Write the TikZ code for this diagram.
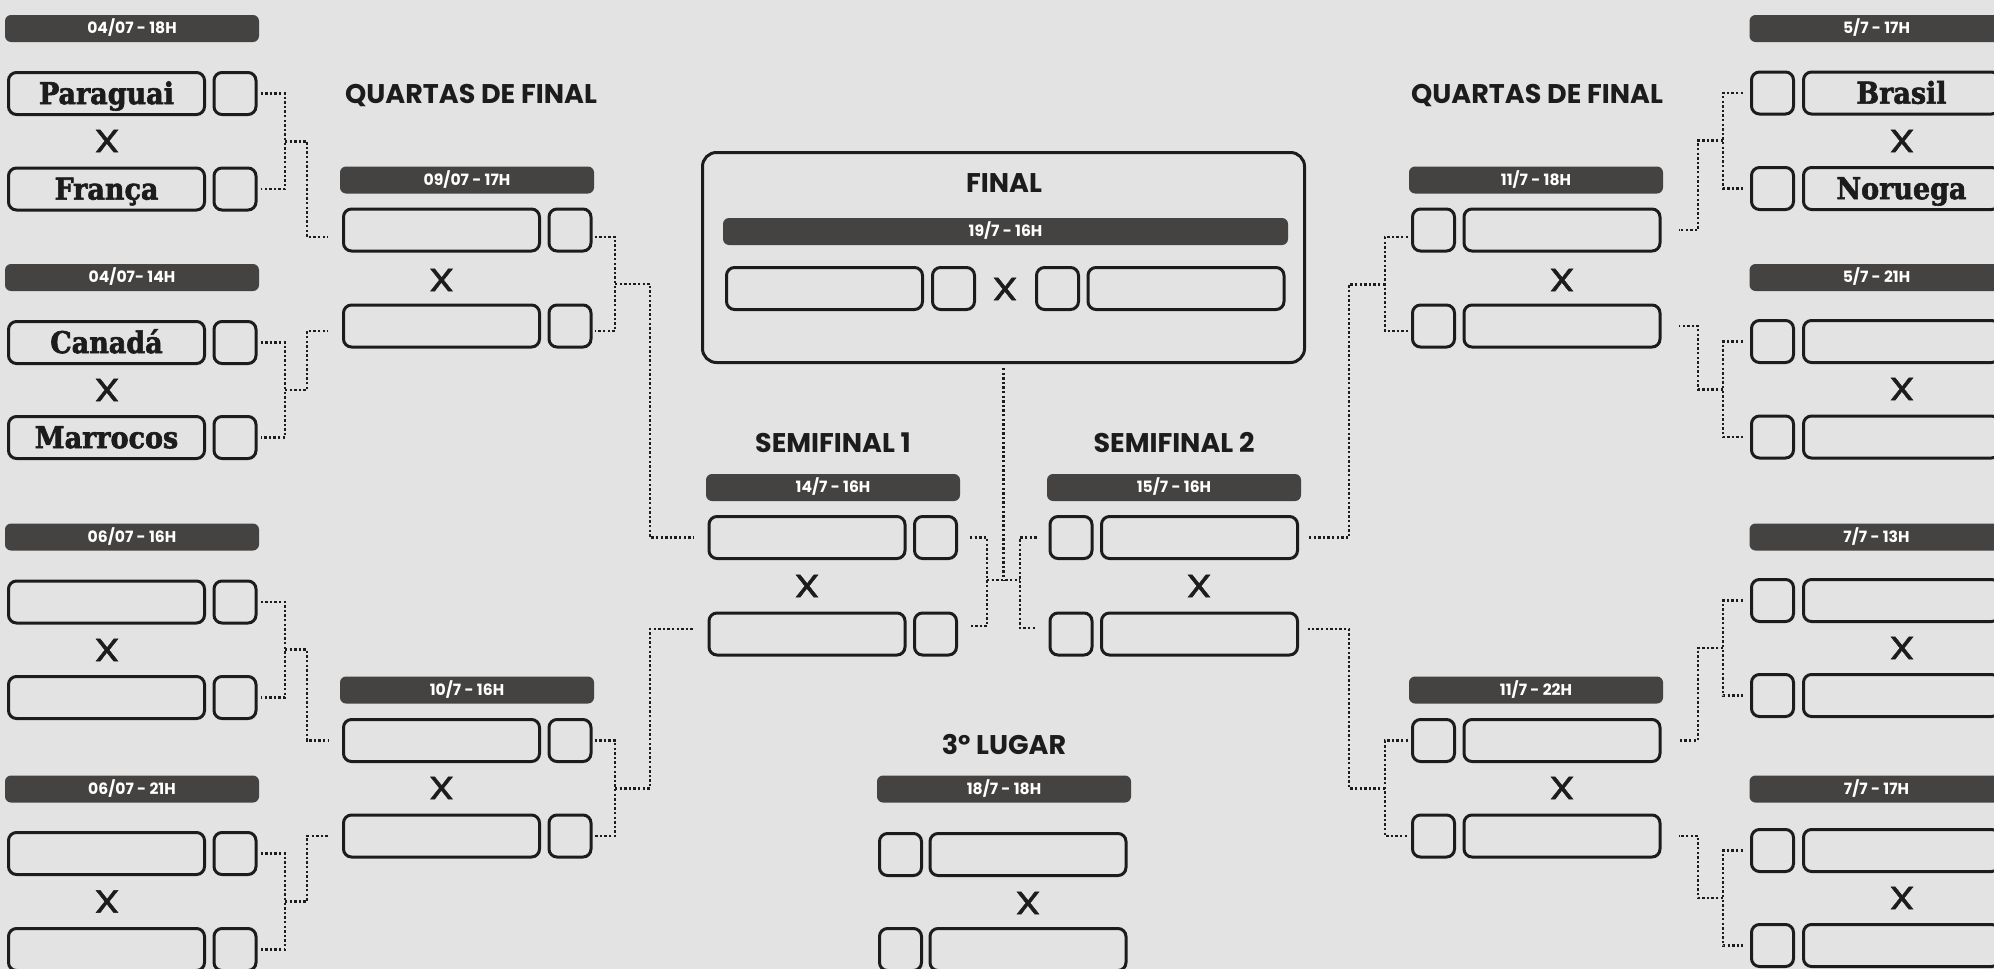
\documentclass[tikz,border=0pt]{standalone}
\usepackage{fontspec}
\newfontfamily\popfont{Poppins}
\newfontfamily\vsfont{Poppins}[FakeStretch=1.3,FakeBold=1.2]
\newfontfamily\slabfont{DejaVu Serif Condensed}[BoldFeatures={FakeBold=2}]
\definecolor{paper}{HTML}{E3E3E3}
\definecolor{ink}{HTML}{1C1C1C}
\definecolor{bar}{HTML}{454341}
\newcommand{\bartxt}{\popfont\bfseries\fontsize{7.8}{9}\selectfont}
\newcommand{\headtxt}{\popfont\bfseries\fontsize{13.5}{15}\selectfont}
\newcommand{\vstxt}{\vsfont\fontsize{16}{18}\selectfont}
\newcommand{\teamtxt}{\slabfont\bfseries\fontsize{15}{17}\selectfont}

\begin{document}
\begin{tikzpicture}[x=0.5pt,y=-0.5pt,
  team/.style={draw=ink,line width=1.5pt,rounded corners=4pt,minimum width=98pt,minimum height=21pt,inner sep=0,text height=10.6pt,text depth=0pt,font=\teamtxt,text=ink},
  score/.style={draw=ink,line width=1.5pt,rounded corners=4pt,minimum width=21pt,minimum height=21pt,inner sep=0},
  datebar/.style={fill=bar,rounded corners=3pt,minimum width=127pt,minimum height=13.5pt,inner sep=0,text height=5.4pt,text depth=0pt,font=\bartxt,text=white},
  vs/.style={inner sep=0,font=\vstxt,text=ink},
  head/.style={inner sep=0,text height=9.5pt,text depth=0pt,font=\headtxt,text=ink},
  link/.style={draw=ink,line width=1.3pt,dash pattern=on 1.2pt off 1.1pt}]
\useasboundingbox (0,0) rectangle (1994,969);
\clip (0,0) rectangle (1994,969);
\fill[paper] (0,0) rectangle (1994,969);

% oitavas, lado esquerdo
\node[datebar] (bA) at (132,28.5) {04/07 - 18H};
\node[team] (tA1) at (106.5,93.5) {Paraguai};
\node[score] (sA1) at (235,93.5) {};
\node[vs] (xA) at (107,141) {X};
\node[team] (tA2) at (106.5,189) {França};
\node[score] (sA2) at (235,189) {};
\node[datebar] (bB) at (132,277.5) {04/07- 14H};
\node[team] (tB1) at (106.5,342.5) {Canadá};
\node[score] (sB1) at (235,342.5) {};
\node[vs] (xB) at (107,390) {X};
\node[team] (tB2) at (106.5,437.5) {Marrocos};
\node[score] (sB2) at (235,437.5) {};
\node[datebar] (bC) at (132,537) {06/07 - 16H};
\node[team] (tC1) at (106.5,602) {};
\node[score] (sC1) at (235,602) {};
\node[vs] (xC) at (107,650) {X};
\node[team] (tC2) at (106.5,697.5) {};
\node[score] (sC2) at (235,697.5) {};
\node[datebar] (bD) at (132,789) {06/07 - 21H};
\node[team] (tD1) at (106.5,853.5) {};
\node[score] (sD1) at (235,853.5) {};
\node[vs] (xD) at (107,901.5) {X};
\node[team] (tD2) at (106.5,949.5) {};
\node[score] (sD2) at (235,949.5) {};

% oitavas, lado direito
\node[datebar] (bE) at (1876.5,28.5) {5/7 - 17H};
\node[score] (sE1) at (1772.5,93) {};
\node[team] (tE1) at (1901.5,93) {Brasil};
\node[vs] (xE) at (1902,141) {X};
\node[score] (sE2) at (1772.5,188.5) {};
\node[team] (tE2) at (1901.5,188.5) {Noruega};
\node[datebar] (bF) at (1876.5,277.5) {5/7 - 21H};
\node[score] (sF1) at (1772.5,341.5) {};
\node[team] (tF1) at (1901.5,341.5) {};
\node[vs] (xF) at (1902,389) {X};
\node[score] (sF2) at (1772.5,437) {};
\node[team] (tF2) at (1901.5,437) {};
\node[datebar] (bG) at (1876.5,537) {7/7 - 13H};
\node[score] (sG1) at (1772.5,600.5) {};
\node[team] (tG1) at (1901.5,600.5) {};
\node[vs] (xG) at (1902,648) {X};
\node[score] (sG2) at (1772.5,695.5) {};
\node[team] (tG2) at (1901.5,695.5) {};
\node[datebar] (bH) at (1876.5,789) {7/7 - 17H};
\node[score] (sH1) at (1772.5,850.5) {};
\node[team] (tH1) at (1901.5,850.5) {};
\node[vs] (xH) at (1902,898) {X};
\node[score] (sH2) at (1772.5,945.5) {};
\node[team] (tH2) at (1901.5,945.5) {};

% quartas
\node[head] (hQL) at (471,94) {QUARTAS DE FINAL};
\node[datebar] (bQ1) at (467,180) {09/07 - 17H};
\node[team] (tQ1a) at (441.5,230) {};
\node[score] (sQ1a) at (570,230) {};
\node[vs] (xQ1) at (441.5,280) {X};
\node[team] (tQ1b) at (441.5,326) {};
\node[score] (sQ1b) at (570,326) {};
\node[datebar] (bQ2) at (467,690) {10/7 - 16H};
\node[team] (tQ2a) at (441.5,740.5) {};
\node[score] (sQ2a) at (570,740.5) {};
\node[vs] (xQ2) at (441.5,788) {X};
\node[team] (tQ2b) at (441.5,836) {};
\node[score] (sQ2b) at (570,836) {};
\node[head] (hQR) at (1537,94) {QUARTAS DE FINAL};
\node[datebar] (bQ3) at (1536,180) {11/7 - 18H};
\node[score] (sQ3a) at (1433.5,230) {};
\node[team] (tQ3a) at (1562,230) {};
\node[vs] (xQ3) at (1562,280) {X};
\node[score] (sQ3b) at (1433.5,326) {};
\node[team] (tQ3b) at (1562,326) {};
\node[datebar] (bQ4) at (1536,690) {11/7 - 22H};
\node[score] (sQ4a) at (1433.5,740.5) {};
\node[team] (tQ4a) at (1562,740.5) {};
\node[vs] (xQ4) at (1562,788) {X};
\node[score] (sQ4b) at (1433.5,836) {};
\node[team] (tQ4b) at (1562,836) {};

% semifinais
\node[head] (hS1) at (833,443) {SEMIFINAL 1};
\node[datebar] (bS1) at (833,487.5) {14/7 - 16H};
\node[team] (tS1a) at (807,537.5) {};
\node[score] (sS1a) at (935.5,537.5) {};
\node[vs] (xS1) at (807,586) {X};
\node[team] (tS1b) at (807,634) {};
\node[score] (sS1b) at (935.5,634) {};
\node[head] (hS2) at (1174,443) {SEMIFINAL 2};
\node[datebar] (bS2) at (1174,487.5) {15/7 - 16H};
\node[score] (sS2a) at (1071,537.5) {};
\node[team] (tS2a) at (1199.5,537.5) {};
\node[vs] (xS2) at (1199,586) {X};
\node[score] (sS2b) at (1071,634) {};
\node[team] (tS2b) at (1199.5,634) {};

% final
\node[draw=ink,line width=1.5pt,rounded corners=7pt,minimum width=301pt,minimum height=105pt,inner sep=0] (finalbox) at (1003.5,257.5) {};
\node[head] (hFin) at (1004,183) {FINAL};
\node[datebar,minimum width=282.5pt] (bFin) at (1005.5,231.5) {19/7 - 16H};
\node[team] (finTa) at (824.5,288.5) {};
\node[score] (finSa) at (953.5,288.5) {};
\node[vs] (xFin) at (1005,289) {X};
\node[score] (finSb) at (1057.5,288.5) {};
\node[team] (finTb) at (1186,288.5) {};

% 3o lugar
\node[head] (hT) at (1004,745) {3º LUGAR};
\node[datebar] (bT) at (1004,789) {18/7 - 18H};
\node[score] (thSa) at (900.5,854.5) {};
\node[team] (thTa) at (1028,854.5) {};
\node[vs] (xT) at (1028,903) {X};
\node[score] (thSb) at (900.5,949.5) {};
\node[team] (thTb) at (1028,949.5) {};

% chaves, lado esquerdo
\coordinate (jA) at (285,141.25);
\coordinate (jB) at (285,390);
\coordinate (jC) at (285,649.75);
\coordinate (jD) at (285,901.5);
\draw[link] ([xshift=1.5pt]sA1.east) -| (jA) |- ([xshift=1.5pt]sA2.east);
\draw[link] ([xshift=1.5pt]sB1.east) -| (jB) |- ([xshift=1.5pt]sB2.east);
\draw[link] ([xshift=1.5pt]sC1.east) -| (jC) |- ([xshift=1.5pt]sC2.east);
\draw[link] ([xshift=1.5pt]sD1.east) -| (jD) |- ([xshift=1.5pt]sD2.east);
\draw[link] (jA) -- ++(22,0) |- ([xshift=-7pt,yshift=-3.5pt]tQ1a.west);
\draw[link] (jB) -- ++(22,0) |- ([xshift=-7pt,yshift=-2.5pt]tQ1b.west);
\draw[link] (jC) -- ++(22,0) |- ([xshift=-7pt]tQ2a.west);
\draw[link] (jD) -- ++(22,0) |- ([xshift=-7pt]tQ2b.west);
\coordinate (jQ1) at (615,284);
\coordinate (jQ2) at (615,788.25);
\draw[link] ([xshift=1pt,yshift=-3.5pt]sQ1a.east) -| (jQ1) |- ([xshift=1pt,yshift=-2.5pt]sQ1b.east);
\draw[link] ([xshift=1pt]sQ2a.east) -| (jQ2) |- ([xshift=1pt]sQ2b.east);
\draw[link] (jQ1) -- ++(35,0) |- ([xshift=-7pt]tS1a.west);
\draw[link] (jQ2) -- ++(35,0) |- ([xshift=-7pt,yshift=2.5pt]tS1b.west);

% centro
\coordinate (jS1) at (987,580);
\coordinate (jS2) at (1020,580);
\draw[link] ([xshift=6pt]sS1a.east) -| (jS1) |- ([xshift=6pt,yshift=4pt]sS1b.east);
\draw[link] ([xshift=-6pt]sS2a.west) -| (jS2) |- ([xshift=-6pt,yshift=3pt]sS2b.west);
\draw[link] (jS1) -- (jS2);
\draw[link] ([yshift=-2pt]finalbox.south) -- (finalbox.south |- jS1);

% chaves, lado direito
\coordinate (jQ3) at (1385,284.5);
\coordinate (jQ4) at (1385,788.25);
\draw[link] ([xshift=-1.5pt,yshift=-3.5pt]sQ3a.west) -| (jQ3) |- ([xshift=-1.5pt,yshift=-2.5pt]sQ3b.west);
\draw[link] ([xshift=-1.5pt]sQ4a.west) -| (jQ4) |- ([xshift=-1.5pt]sQ4b.west);
\draw[link] (jQ3) -- ++(-36,0) |- ([xshift=4.5pt]tS2a.east);
\draw[link] (jQ4) -- ++(-36,0) |- ([xshift=4.5pt,yshift=2.5pt]tS2b.east);
\coordinate (jE) at (1723,140.75);
\coordinate (jF) at (1723,389.25);
\coordinate (jG) at (1723,648);
\coordinate (jH) at (1723,898);
\draw[link] ([xshift=-3.5pt]sE1.west) -| (jE) |- ([xshift=-3.5pt]sE2.west);
\draw[link] ([xshift=-3.5pt]sF1.west) -| (jF) |- ([xshift=-3.5pt]sF2.west);
\draw[link] ([xshift=-3.5pt]sG1.west) -| (jG) |- ([xshift=-3.5pt]sG2.west);
\draw[link] ([xshift=-3.5pt]sH1.west) -| (jH) |- ([xshift=-3.5pt]sH2.west);
\draw[link] (jE) -- ++(-25,0) |- ([xshift=8.5pt]tQ3a.east);
\draw[link] (jF) -- ++(-25,0) |- ([xshift=8.5pt]tQ3b.east);
\draw[link] (jG) -- ++(-25,0) |- ([xshift=8.5pt]tQ4a.east);
\draw[link] (jH) -- ++(-25,0) |- ([xshift=8.5pt]tQ4b.east);
\end{tikzpicture}
\end{document}
